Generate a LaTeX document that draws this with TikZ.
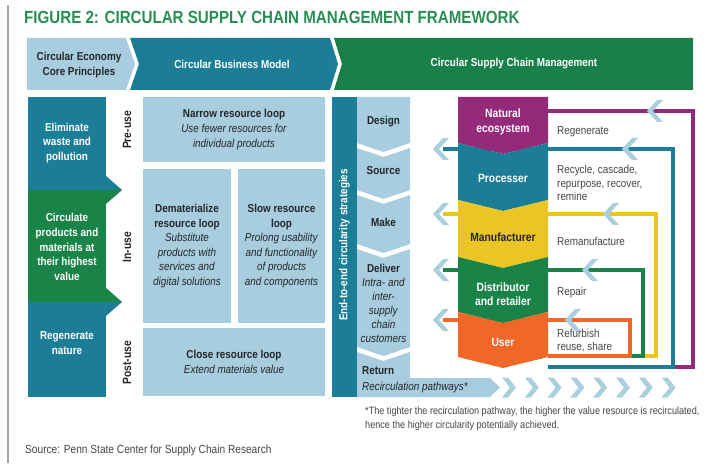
\documentclass[tikz,border=0pt]{standalone}
\usepackage{fontspec}
\setmainfont[FakeStretch=0.86]{Liberation Sans}
\usepackage{xcolor}
\definecolor{TitleGreen}{RGB}{40,142,84}
\definecolor{HeadGreen}{RGB}{24,128,72}
\definecolor{TealBlue}{RGB}{27,125,150}
\definecolor{PaleBlue}{RGB}{168,205,222}
\definecolor{ChevBlue}{RGB}{170,208,222}
\definecolor{Plum}{RGB}{150,42,122}
\definecolor{Gold}{RGB}{235,197,35}
\definecolor{LeafGreen}{RGB}{26,132,72}
\definecolor{Tangerine}{RGB}{240,104,40}
\definecolor{InkGray}{RGB}{35,38,42}
\definecolor{NoteGray}{RGB}{70,70,70}
\newcommand{\bodyfont}{\fontsize{11.5}{14.6}\selectfont}
\newcommand{\sidefont}{\fontsize{11.5}{13.5}\selectfont}

\begin{document}
\begin{tikzpicture}[x=1pt, y=-1pt,
  txt/.style={font=\bodyfont, text=InkGray, align=center, inner sep=0pt},
  wtxt/.style={txt, font=\bodyfont\bfseries, text=white},
  loopbox/.style={txt, fill=PaleBlue},
  phaselabel/.style={txt, font=\fontsize{12}{14}\selectfont\bfseries, rotate=90},
  actor/.style={txt, font=\fontsize{12}{15}\selectfont\bfseries, text=white},
  sidelabel/.style={font=\sidefont, text=NoteGray, align=left, anchor=west, inner sep=0pt},
  pathway/.style={line width=3.4pt},
]
\useasboundingbox (0,0) rectangle (720,465);
\fill[white] (0,0) rectangle (720,465);
\draw[gray!70, line width=1.5pt] (8,5) -- (8,463);

% title
\node[anchor=west, inner sep=0pt, text=TitleGreen, font=\fontsize{17.6}{20}\selectfont\bfseries] (title) at (24,17)
  {FIGURE 2: CIRCULAR SUPPLY CHAIN MANAGEMENT FRAMEWORK};

% header band
\fill[PaleBlue] (27,38) -- (126,38) -- (135,64) -- (126,90) -- (27,90) -- cycle;
\fill[TealBlue] (130,38) -- (330,38) -- (338,64) -- (330,90) -- (130,90) -- (139,64) -- cycle;
\fill[HeadGreen] (334,38) -- (693,38) -- (693,90) -- (334,90) -- (342,64) -- cycle;
\node[txt, font=\bodyfont\bfseries] (hprin) at (79,65) {Circular Economy\\Core Principles};
\node[wtxt] (hmodel) at (232,64) {Circular Business Model};
\node[wtxt] (hchain) at (514,64) {Circular Supply Chain Management};

% core principles
\fill[TealBlue] (28,97) rectangle (106,190);
\fill[TealBlue] (106,176) -- (122,190) -- (106,190) -- cycle;
\fill[LeafGreen] (28,190) rectangle (106,302);
\fill[LeafGreen] (106,190) -- (122,190) -- (106,204) -- cycle;
\fill[LeafGreen] (106,288) -- (122,302) -- (106,302) -- cycle;
\fill[TealBlue] (28,302) rectangle (106,397);
\fill[TealBlue] (106,302) -- (122,302) -- (106,316) -- cycle;
\node[wtxt] (elim) at (67,143) {Eliminate\\waste and\\pollution};
\node[wtxt] (circ) at (67,247) {Circulate\\products and\\materials at\\their highest\\value};
\node[wtxt] (regen) at (67,343) {Regenerate\\nature};

\node[phaselabel] (pre) at (127,130) {Pre-use};
\node[phaselabel] (inuse) at (127,247) {In-use};
\node[phaselabel] (post) at (127,363) {Post-use};

% business model loops
\node[loopbox, minimum width=182pt, minimum height=65pt] (narrow) at (234,129.5)
  {\textbf{Narrow resource loop}\\\textit{Use fewer resources for}\\\textit{individual products}};
\node[loopbox, minimum width=88pt, minimum height=154pt] (demat) at (187,246)
  {\textbf{Dematerialize}\\\textbf{resource loop}\\\textit{Substitute}\\\textit{products with}\\\textit{services and}\\\textit{digital solutions}};
\node[loopbox, minimum width=87pt, minimum height=154pt] (slow) at (281.5,246)
  {\textbf{Slow resource}\\\textbf{loop}\\\textit{Prolong usability}\\\textit{and functionality}\\\textit{of products}\\\textit{and components}};
\node[loopbox, minimum width=182pt, minimum height=68pt] (close) at (234,362)
  {\textbf{Close resource loop}\\\textit{Extend materials value}};

% end-to-end strategies
\fill[TealBlue] (332,97) rectangle (357,397);
\node[wtxt, rotate=90] (strat) at (344.5,245) {End-to-end circularity strategies};
\fill[PaleBlue] (357,97) -- (410,97) -- (410,143) -- (383.5,152) -- (357,143) -- cycle;
\foreach \ttop/\tbot in {148/190, 195/244, 249/347}
  \fill[PaleBlue] (357,\ttop) -- (383.5,\ttop+9) -- (410,\ttop) -- (410,\tbot) -- (383.5,\tbot+9) -- (357,\tbot) -- cycle;
\fill[PaleBlue] (357,352) -- (383.5,361) -- (410,352) -- (410,378) -- (490,378) -- (500,387.5) -- (490,397) -- (357,397) -- cycle;
\foreach \i in {0,...,7}
  \fill[ChevBlue, shift={({510+22.8*\i},387.5)}] (6,0) -- (-2,-10) -- (-8,-10) -- (0,0) -- (-8,10) -- (-2,10) -- cycle;

\node[txt, font=\bodyfont\bfseries] (design) at (383.5,122) {Design};
\node[txt, font=\bodyfont\bfseries] (source) at (383.5,171) {Source};
\node[txt, font=\bodyfont\bfseries] (make) at (383.5,222) {Make};
\node[txt, font=\fontsize{11.5}{14}\selectfont] (deliver) at (383.5,303)
  {\textbf{Deliver}\\\textit{Intra- and}\\\textit{inter-}\\\textit{supply}\\\textit{chain}\\\textit{customers}};
\node[txt, align=left, anchor=west] (return) at (362,380)
  {\textbf{Return}\\[1.4pt]\textit{Recirculation pathways*}};

% recirculation pathways
\draw[pathway, Plum] (548,111) -- (693,111) -- (693,367) -- (673,367);
\draw[pathway, TealBlue] (443,149) -- (673,149) -- (673,367) -- (548,367);
\draw[pathway, Gold] (443,214) -- (656,214) -- (656,356) -- (643,356);
\draw[pathway, LeafGreen] (443,270) -- (643,270) -- (643,356) -- (630,356);
\draw[pathway, Tangerine] (443,320) -- (630,320) -- (630,356) -- (548,356);
\foreach \cx/\cy in {655/111, 630/149, 611/214, 590/270, 573/320, 441/149, 441/214, 441/270, 441/320}
  \fill[ChevBlue, shift={(\cx,\cy)}] (-8,0) -- (2,-11) -- (8,-11) -- (-2,0) -- (8,11) -- (2,11) -- cycle;

% supply chain actors
\fill[Plum] (458,97) -- (548,97) -- (548,143) -- (503,154) -- (458,143) -- cycle;
\foreach \ttop/\tbot/\col in {143/200/TealBlue, 200/257/Gold, 257/312/LeafGreen, 312/357/Tangerine}
  \fill[\col] (458,\ttop) -- (503,\ttop+11) -- (548,\ttop) -- (548,\tbot) -- (503,\tbot+11) -- (458,\tbot) -- cycle;
\node[actor] (nature) at (503,122) {Natural\\ecosystem};
\node[actor] (proc) at (503,178) {Processer};
\node[actor, text=InkGray] (manu) at (503,237) {Manufacturer};
\node[actor, font=\fontsize{12}{14}\selectfont\bfseries] (dist) at (503,294) {Distributor\\and retailer};
\node[actor] (user) at (503,342) {User};

\node[sidelabel] (lregen) at (557,132) {Regenerate};
\node[sidelabel] (lrecyc) at (557,183) {Recycle, cascade,\\repurpose, recover,\\remine};
\node[sidelabel] (lreman) at (557,241) {Remanufacture};
\node[sidelabel] (lrepair) at (557,293) {Repair};
\node[sidelabel] (lrefurb) at (557,340.5) {Refurbish\\reuse, share};

% notes
\node[sidelabel, font=\fontsize{10.6}{14}\selectfont] (note) at (365,419)
  {*The tighter the recirculation pathway, the higher the value resource is recirculated,\\hence the higher circularity potentially achieved.};
\node[sidelabel, font=\fontsize{11.8}{14}\selectfont] (src) at (25,450)
  {Source: Penn State Center for Supply Chain Research};
\end{tikzpicture}
\end{document}
